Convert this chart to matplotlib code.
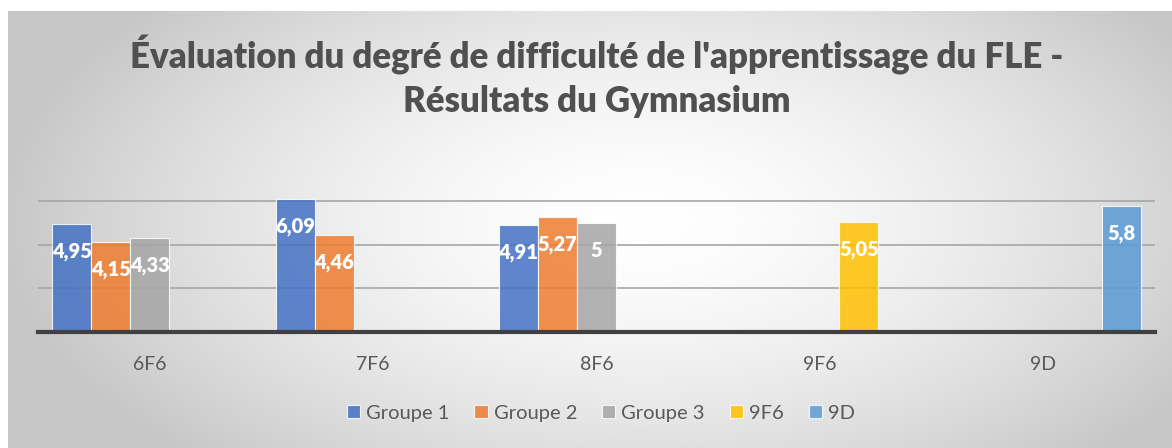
import numpy as np
import matplotlib
matplotlib.use("Agg")
import matplotlib.pyplot as plt

categories = ["6F6", "7F6", "8F6", "9F6", "9D"]
series_names = ["Groupe 1", "Groupe 2", "Groupe 3", "9F6", "9D"]
groupe1 = [4.95, 6.09, 4.91, np.nan, np.nan]
groupe2 = [4.15, 4.46, 5.27, np.nan, np.nan]
groupe3 = [4.33, np.nan, 5.00, np.nan, np.nan]
serie_9f6 = [np.nan, np.nan, np.nan, 5.05, np.nan]
serie_9d = [np.nan, np.nan, np.nan, np.nan, 5.80]
colors = ["#4472C4", "#ED7D31", "#A5A5A5", "#FFC000", "#5B9BD5"]

plt.rcParams['font.family'] = ['Lato', 'DejaVu Sans']
text_col = "#595959"

W, H = 1172, 448
fig = plt.figure(figsize=(W / 100, H / 100), dpi=100)

# background: radial gradient like the Excel chart area
bg = fig.add_axes([8 / W, 0, (W - 8) / W, (H - 11) / H])
xx, yy = np.meshgrid(np.arange(W - 8) + 8, np.arange(H - 11) + 11)
d = np.sqrt(((xx - 640) / 640) ** 2 + ((yy - 220) / 330) ** 2)
shade = 1.0 - 0.22 * np.clip(d, 0, 1) ** 1.6
bg.imshow(np.dstack([shade] * 3), aspect="auto", extent=[0, 1, 0, 1])
bg.set_axis_off()

ax = fig.add_axes([38 / W, (H - 332) / H, 1117 / W, 133 / H])
ax.set_facecolor("none")

x = np.arange(len(categories))
width = 0.1746
all_series = [groupe1, groupe2, groupe3, serie_9f6, serie_9d]
for i, (name, vals, c) in enumerate(zip(series_names, all_series, colors)):
    pos = x + (i - 2) * width
    bars = ax.bar(pos, vals, width, color=c, alpha=0.85, edgecolor="white",
                  linewidth=0.8, label=name, clip_on=False, zorder=3)
    for b, v in zip(bars, vals):
        if np.isnan(v):
            continue
        txt = f"{v:g}".replace(".", ",")
        ax.annotate(txt, (b.get_x() + b.get_width() / 2, v), xytext=(0, -20),
                    textcoords="offset points", ha="center", va="center",
                    color="white", fontsize=14.5, fontweight="heavy", zorder=4)

ax.set_xlim(-0.5, len(categories) - 0.5)
ax.set_ylim(0, 6.1)
ax.set_yticks([2, 4, 6])
ax.yaxis.grid(True, color="#a6a6a6", linewidth=1.2)
ax.set_axisbelow(True)
ax.tick_params(axis="y", left=False, labelleft=False)
ax.tick_params(axis="x", length=0, pad=17, labelsize=14, labelcolor=text_col)
ax.set_xticks(x)
ax.set_xticklabels(categories)
for s in ["top", "right", "left"]:
    ax.spines[s].set_visible(False)
ax.spines["bottom"].set_color("#404040")
ax.spines["bottom"].set_linewidth(3)
ax.spines["bottom"].set_zorder(5)

fig.text(597 / W, 1 - 55 / H, "Évaluation du degré de difficulté de l'apprentissage du FLE -",
         ha="center", va="center", fontsize=25, fontweight="heavy", color="#505050")
fig.text(597 / W, 1 - 101 / H, "Résultats du Gymnasium",
         ha="center", va="center", fontsize=25, fontweight="heavy", color="#505050")

fig.legend(loc="center", bbox_to_anchor=(601 / W, 1 - 413 / H), ncol=5, frameon=False,
           fontsize=14.5, labelcolor=text_col, handlelength=0.65, handleheight=0.65,
           handletextpad=0.3, columnspacing=1.25)

fig.savefig("out.png", dpi=100)
